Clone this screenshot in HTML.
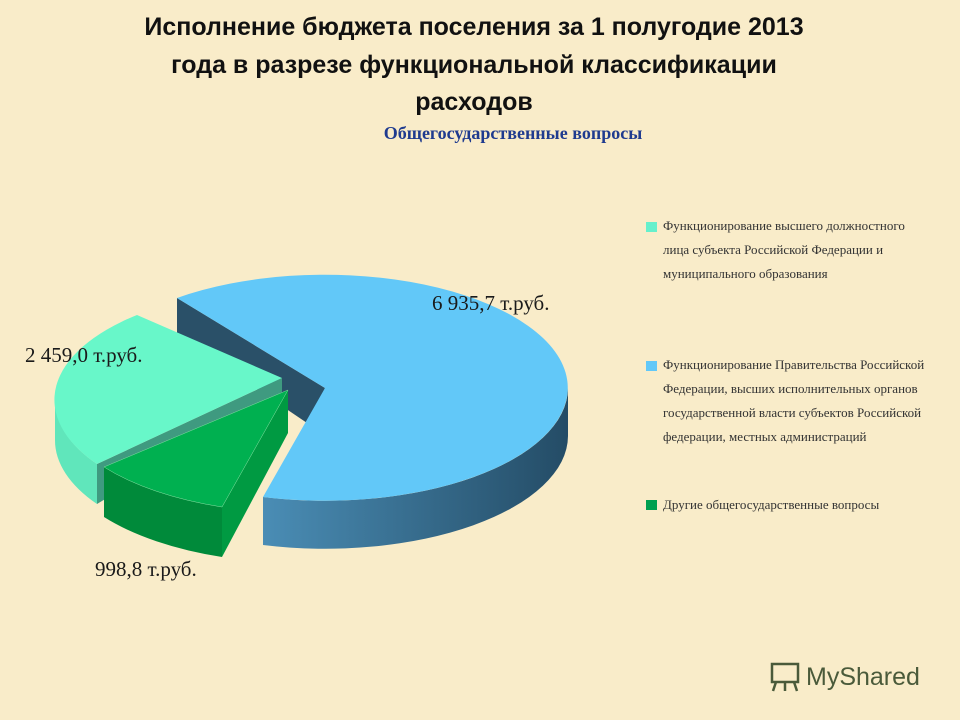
<!DOCTYPE html>
<html><head><meta charset="utf-8"><style>
body{margin:0;background:#f9ecc9;}
svg{display:block}
.t{font-family:"Liberation Sans",sans-serif;font-weight:bold;font-size:25px;fill:#111}
.s{font-family:"Liberation Serif",serif;font-weight:bold;font-size:18px;fill:#1f3b8f}
.l{font-family:"Liberation Serif",serif;font-size:21px;fill:#1a1a1a}
.g{font-family:"Liberation Serif",serif;font-size:13px;fill:#333}
</style></head><body>
<svg width="960" height="720" viewBox="0 0 960 720">
<defs>
<linearGradient id="bs" x1="263" y1="0" x2="568" y2="0" gradientUnits="userSpaceOnUse">
<stop offset="0" stop-color="#4a8db5"/><stop offset="1" stop-color="#244c66"/></linearGradient>
</defs>
<rect width="960" height="720" fill="#f9ecc9"/>
<text class="t" x="474" y="35" text-anchor="middle">Исполнение бюджета поселения за 1 полугодие 2013</text>
<text class="t" x="474" y="73" text-anchor="middle">года в разрезе функциональной классификации</text>
<text class="t" x="474" y="110" text-anchor="middle">расходов</text>
<text class="s" x="513" y="139" text-anchor="middle">Общегосударственные вопросы</text>

<path d="M177,298 L325,388 L310,425 L177,335 Z" fill="#2a5068"/>
<path d="M568,388 A243,113 0 0,1 263,497 L263,545 A243,113 0 0,0 568,436 Z" fill="url(#bs)"/>
<path d="M325,388 L177,298 A243,113 0 1,1 263,497 Z" fill="#62c8f8"/>

<path d="M55,400 A227,110 0 0,0 97,464 L97,504 A227,110 0 0,1 55,440 Z" fill="#60e6bb"/>
<path d="M282,378 L97,464 L97,504 L282,392 Z" fill="#3f9a80"/>
<path d="M282,378 L137,315 A227,110 0 0,0 97,464 Z" fill="#68f7c9"/>

<path d="M104,467 A243,113 0 0,0 222,507 L222,557 A243,113 0 0,1 104,517 Z" fill="#008a3a"/>
<path d="M288,390 L222,507 L222,557 L288,433 Z" fill="#009a42"/>
<path d="M288,390 L104,467 A243,113 0 0,0 222,507 Z" fill="#00b050" stroke="#7fe0a0" stroke-width="0.5"/>

<text class="l" x="432" y="310">6 935,7 т.руб.</text>
<text class="l" x="25" y="362">2 459,0 т.руб.</text>
<text class="l" x="95" y="576">998,8 т.руб.</text>

<rect x="646" y="222" width="11" height="10" fill="#66f0cc"/>
<text class="g" x="663" y="230">Функционирование высшего должностного</text>
<text class="g" x="663" y="254">лица субъекта Российской Федерации и</text>
<text class="g" x="663" y="278">муниципального образования</text>
<rect x="646" y="361" width="11" height="10" fill="#62c8f8"/>
<text class="g" x="663" y="369">Функционирование Правительства Российской</text>
<text class="g" x="663" y="393">Федерации, высших исполнительных органов</text>
<text class="g" x="663" y="417">государственной власти субъектов Российской</text>
<text class="g" x="663" y="441">федерации, местных администраций</text>
<rect x="646" y="500" width="11" height="10" fill="#00a050"/>
<text class="g" x="663" y="509">Другие общегосударственные вопросы</text>

<g fill="none" stroke="#4a5a3a" stroke-width="2.5">
<rect x="772" y="664" width="26" height="18"/>
<path d="M776,682 l-3,9 M785,682 v9 M794,682 l3,9"/>
</g>
<text x="806" y="685" font-family="Liberation Sans,sans-serif" font-size="25" fill="#4a5a3a">MyShared</text>
</svg>
</body></html>
